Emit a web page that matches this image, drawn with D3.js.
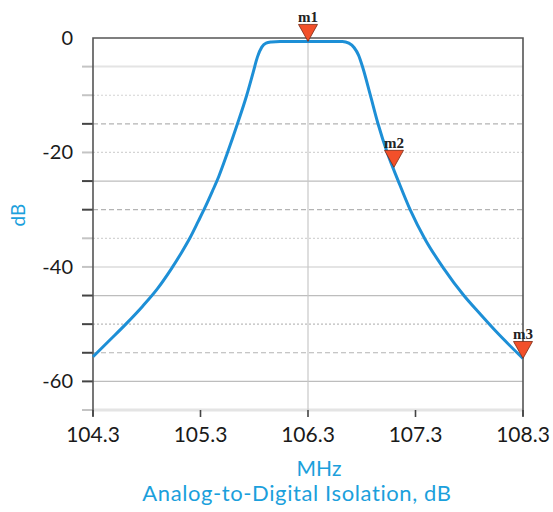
<!DOCTYPE html>
<html lang="en">
	<head>
		<meta charset="utf-8">
		<title>Analog-to-Digital Isolation</title>
		<script type="text/javascript" src="https://cdn.jsdelivr.net/npm/d3@7"></script>
		<style type="text/css">
			body { margin: 0; background: #fff; }
		</style>
	</head>
	<body>
		<script type="text/javascript">

			//Size
			var w = 553;
			var h = 512;

			//Data
			var freq = [104.3, 104.45, 104.61, 104.76, 104.90, 105.03, 105.12, 105.20, 105.28, 105.34,
						105.41, 105.47, 105.55, 105.64, 105.73, 105.79, 105.83, 105.87, 105.91, 105.96,
						106.04, 106.3, 106.5, 106.62, 106.68, 106.73, 106.77, 106.81, 106.88, 106.95,
						107.04, 107.14, 107.25, 107.39, 107.56, 107.75, 107.90, 108.05, 108.3];
			var dB = [-55.7, -52.9, -49.9, -46.9, -43.8, -40.3, -37.6, -35.0, -32.0, -29.7,
					  -26.8, -24.2, -20.1, -15.2, -10.0, -6.0, -3.3, -1.6, -0.9, -0.7,
					  -0.6, -0.6, -0.6, -0.6, -0.9, -1.7, -3.0, -5.2, -10.0, -14.9,
					  -20.2, -25.0, -30.0, -35.2, -40.2, -45.0, -48.2, -51.3, -56.0];

			var markerNames = ["m1", "m2", "m3"];
			var markerFreq = [106.3, 107.1, 108.3];
			var markerDB = [-0.6, -22.6, -56.0];

			var yTicks = [0, -20, -40, -60];
			var xTicks = [104.3, 105.3, 106.3, 107.3, 108.3];
			var gridValues = [-5, -10, -15, -20, -25, -30, -35, -40, -45, -50, -55, -60, -65];

			//Gridline styles (stroke, width, dash, tick colour)
			var gridStyle = {
				"solid-light": ["#e4e4e4", 2, null, "#c4c4c4"],
				"dotted": ["#d4d4d4", 1.2, "2,2", "#c4c4c4"],
				"dashed": ["#b4b4b4", 1.2, "5,3", "#444"],
				"solid-mid": ["#bdbdbd", 1.3, null, "#444"],
				"dotted-dark": ["#bcbcbc", 1.2, "2,2", "#444"]
			};
			var gridKinds = ["solid-light", "dotted", "dashed", "dotted", "solid-mid", "dashed", "dotted",
							 "solid-light", "solid-mid", "dotted-dark", "dashed", "solid-mid", "solid-light"];

			var svg = d3.select("body")
						.append("svg")
						.attr("width", w)
						.attr("height", h);

			var xScale = d3.scaleLinear()
						   .domain([104.3, 108.3])
						   .range([93, 523]);

			var yScale = d3.scaleLinear()
						   .domain([0, -65])
						   .range([38, 410]);

			//Horizontal gridlines with ticks
			gridValues.forEach(function(v, i) {
				var s = gridStyle[gridKinds[i]];
				svg.append("line")
				   .attr("x1", xScale(104.3))
				   .attr("x2", xScale(108.3))
				   .attr("y1", yScale(v))
				   .attr("y2", yScale(v))
				   .attr("stroke", s[0])
				   .attr("stroke-width", v === -65 ? 3 : s[1])
				   .attr("stroke-dasharray", s[2]);
				svg.append("line")
				   .attr("x1", 82)
				   .attr("x2", xScale(104.3))
				   .attr("y1", yScale(v))
				   .attr("y2", yScale(v))
				   .attr("stroke", s[3])
				   .attr("stroke-width", 2);
			});

			//Centre vertical gridline
			svg.append("line")
			   .attr("x1", xScale(106.3))
			   .attr("x2", xScale(106.3))
			   .attr("y1", yScale(0))
			   .attr("y2", yScale(-65))
			   .attr("stroke", "#c8c8c8")
			   .attr("stroke-width", 1.2);

			//Frame
			svg.append("path")
			   .attr("d", "M" + xScale(104.3) + "," + (yScale(-65) + 6) +
						  "V" + yScale(0) + "H" + xScale(108.3) + "V" + (yScale(-65) + 6))
			   .attr("fill", "none")
			   .attr("stroke", "#555")
			   .attr("stroke-width", 1.6);

			//X ticks
			svg.selectAll(".xtick")
			   .data(xTicks)
			   .enter()
			   .append("line")
			   .attr("x1", function(d) { return xScale(d); })
			   .attr("x2", function(d) { return xScale(d); })
			   .attr("y1", yScale(-65))
			   .attr("y2", yScale(-65) + 7)
			   .attr("stroke", "#444")
			   .attr("stroke-width", 1.6);

			//Tick labels
			svg.selectAll(".ylab")
			   .data(yTicks)
			   .enter()
			   .append("text")
			   .text(function(d) { return d; })
			   .attr("x", 73)
			   .attr("y", function(d) { return yScale(d) + 7; })
			   .attr("text-anchor", "end")
			   .attr("font-family", "Lato, sans-serif")
			   .attr("font-size", "20px")
			   .attr("fill", "#1a1a1a");

			svg.selectAll(".xlab")
			   .data(xTicks)
			   .enter()
			   .append("text")
			   .text(function(d) { return d.toFixed(1); })
			   .attr("x", function(d) { return xScale(d); })
			   .attr("y", 442)
			   .attr("text-anchor", "middle")
			   .attr("font-family", "Lato, sans-serif")
			   .attr("font-size", "21px")
			   .attr("fill", "#1a1a1a");

			//Curve
			var line = d3.line()
						 .x(function(d, i) { return xScale(freq[i]); })
						 .y(function(d) { return yScale(d); })
						 .curve(d3.curveMonotoneX);

			svg.append("path")
			   .datum(dB)
			   .attr("d", line)
			   .attr("fill", "none")
			   .attr("stroke", "#1d8fd6")
			   .attr("stroke-width", 3);

			//Markers
			var markers = svg.selectAll(".marker")
							 .data(markerNames)
							 .enter()
							 .append("g")
							 .attr("transform", function(d, i) {
								 return "translate(" + xScale(markerFreq[i]) + "," + yScale(markerDB[i]) + ")";
							 });

			markers.append("path")
				   .attr("d", "M0,0L-9.5,-17L9.5,-17Z")
				   .attr("fill", "#f2502a")
				   .attr("stroke", "#7a2a14")
				   .attr("stroke-width", 0.8);

			markers.append("text")
				   .text(function(d) { return d; })
				   .attr("x", 0)
				   .attr("y", -19)
				   .attr("text-anchor", "middle")
				   .attr("font-family", "Liberation Serif, serif")
				   .attr("font-weight", "bold")
				   .attr("font-size", "15px")
				   .attr("fill", "#222");

			//Axis titles
			svg.append("text")
			   .text("dB")
			   .attr("transform", "translate(25,215) rotate(-90)")
			   .attr("text-anchor", "middle")
			   .attr("font-family", "Lato, sans-serif")
			   .attr("font-size", "19px")
			   .attr("fill", "#1ba0dc");

			svg.append("text")
			   .text("MHz")
			   .attr("x", 319)
			   .attr("y", 476)
			   .attr("text-anchor", "middle")
			   .attr("font-family", "Lato, sans-serif")
			   .attr("font-size", "21px")
			   .attr("fill", "#1ba0dc");

			svg.append("text")
			   .text("Analog-to-Digital Isolation, dB")
			   .attr("x", 297)
			   .attr("y", 501)
			   .attr("text-anchor", "middle")
			   .attr("font-family", "Lato, sans-serif")
			   .attr("font-size", "22px")
			   .attr("letter-spacing", "0.6px")
			   .attr("fill", "#1ba0dc");

		</script>
	</body>
</html>
